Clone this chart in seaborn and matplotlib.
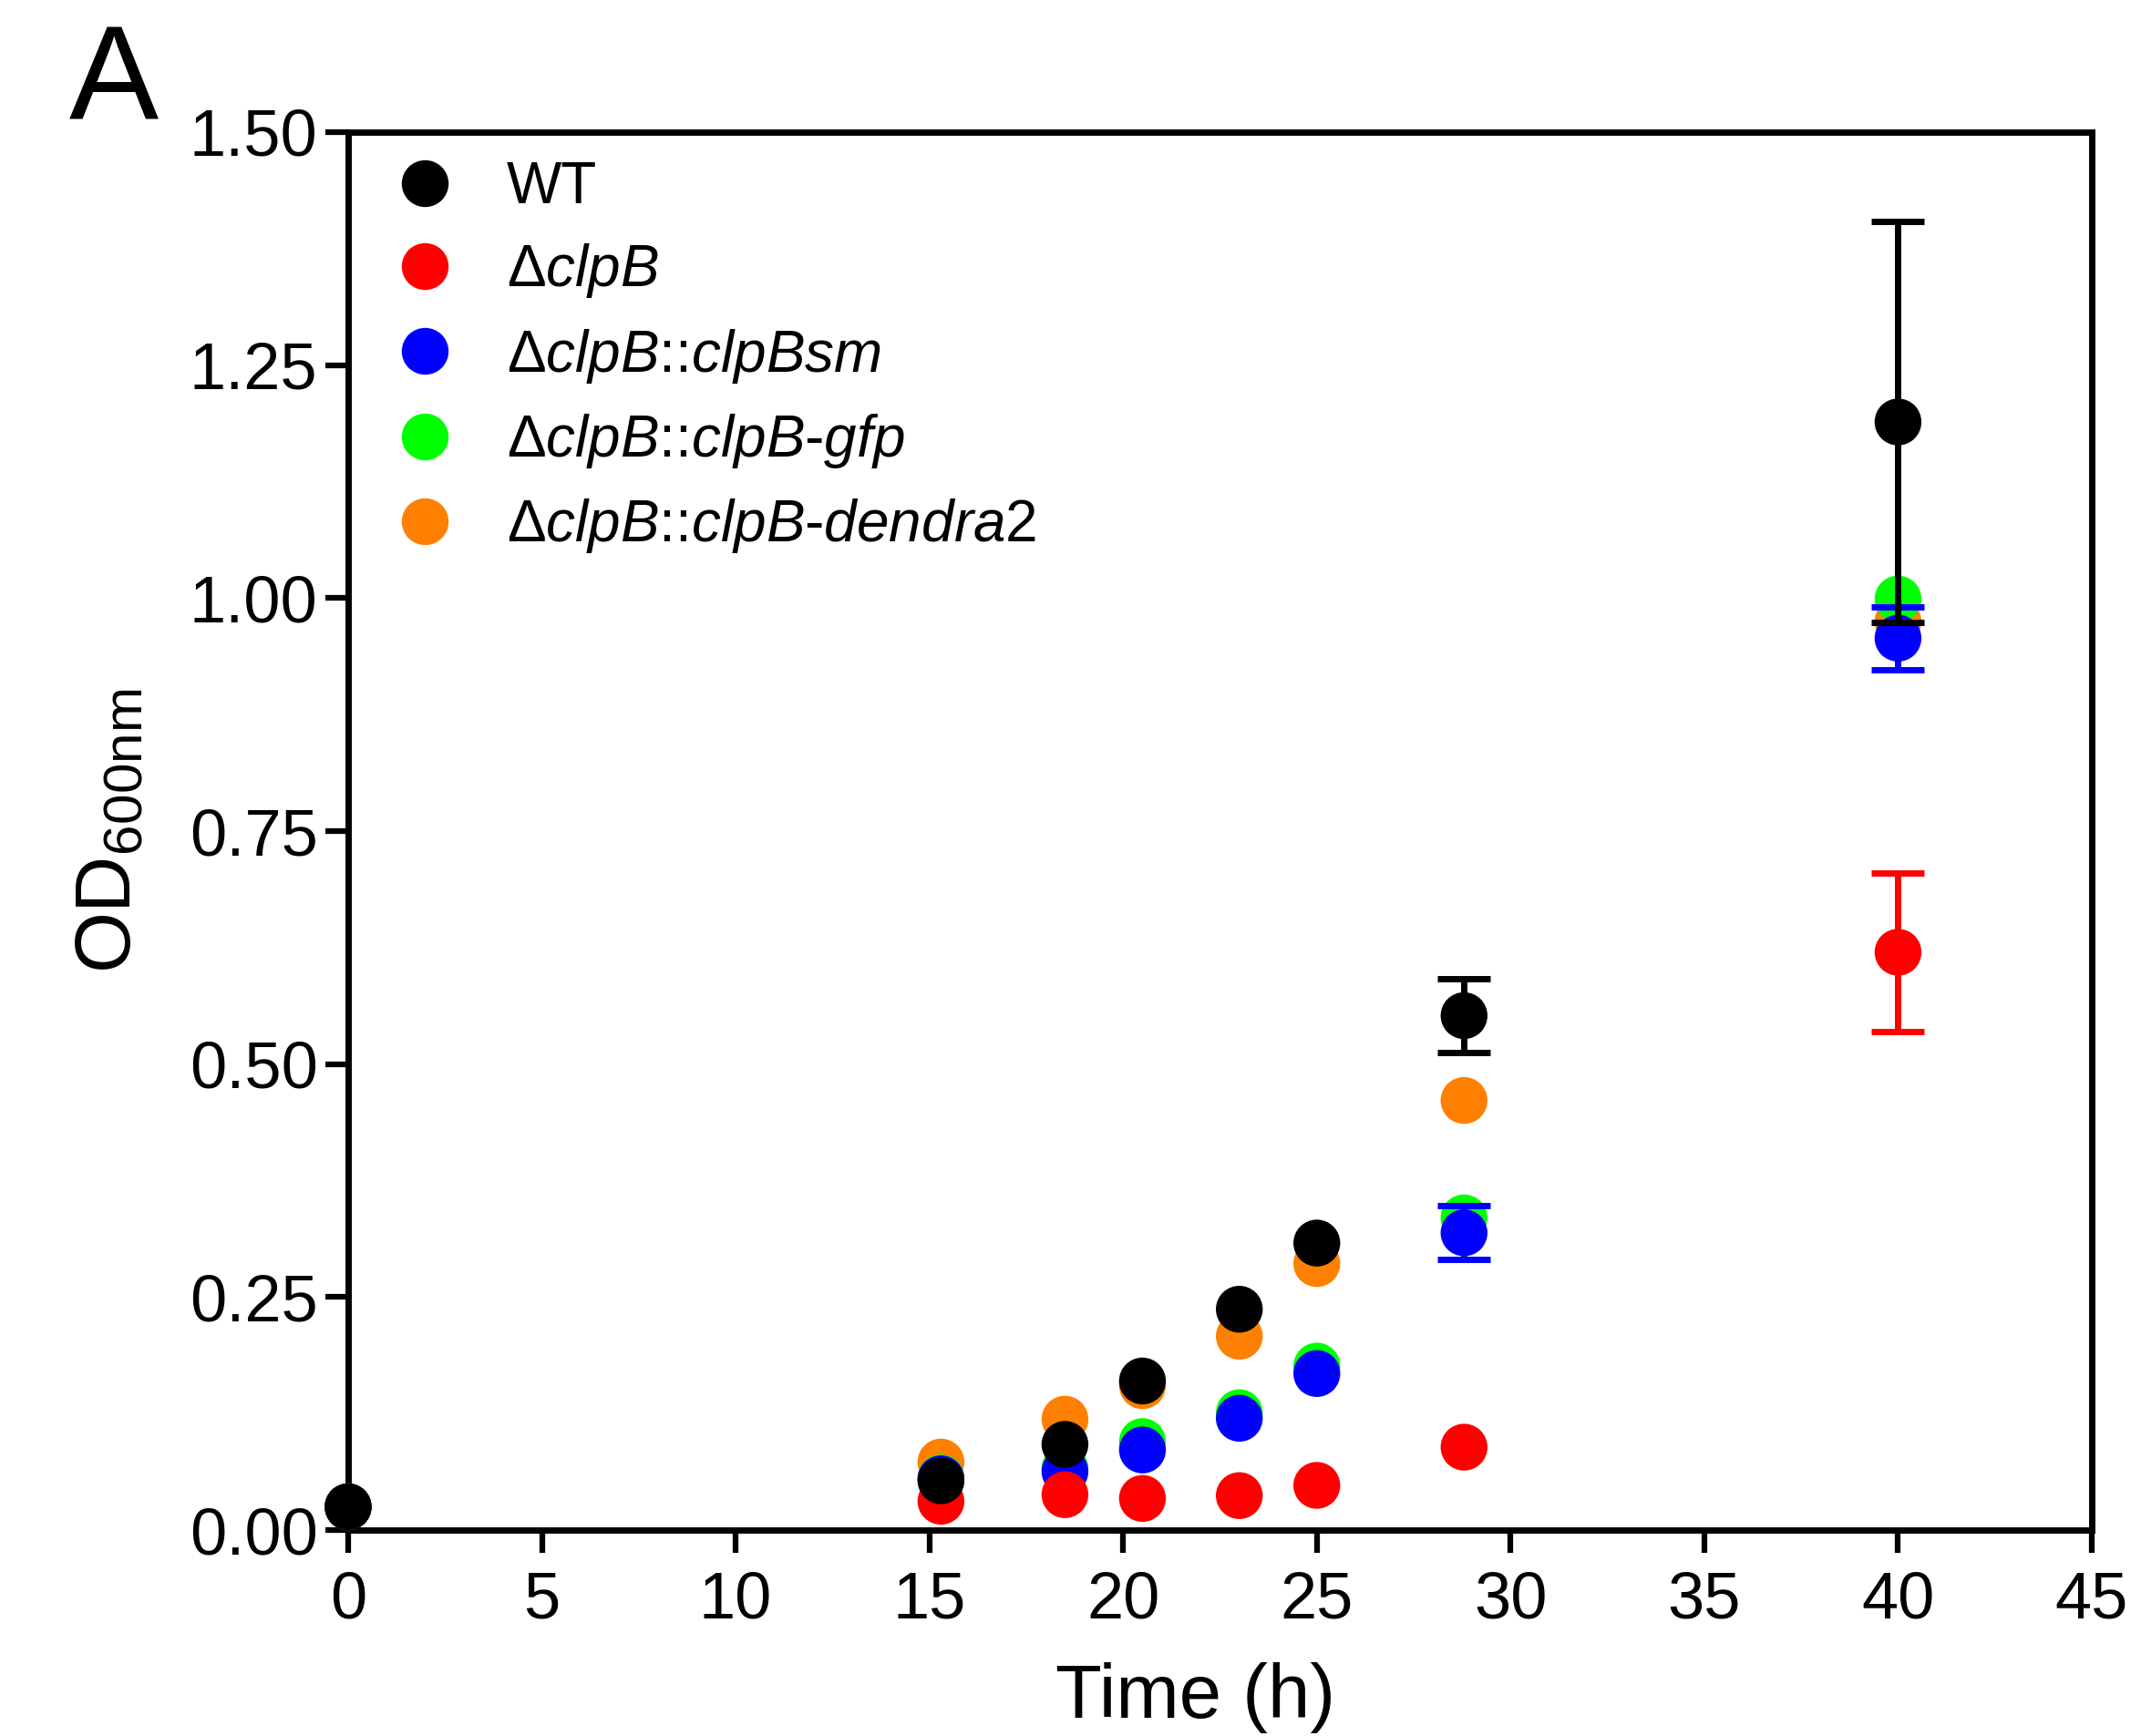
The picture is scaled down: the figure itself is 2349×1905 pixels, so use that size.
import seaborn as sns
import matplotlib
import matplotlib.pyplot as plt
import numpy as np
import pandas as pd

matplotlib.use('Agg')

# values
time_h = [0, 15.3, 18.5, 20.5, 23.0, 25.0, 28.8, 40.0]

wt = [0.025, 0.053, 0.092, 0.160, 0.237, 0.308, 0.552, 1.189]
clpb = [0.025, 0.031, 0.038, 0.034, 0.037, 0.048, 0.089, 0.620]
clpbsm = [0.025, 0.055, 0.063, 0.086, 0.120, 0.168, 0.319, 0.957]
gfp = [0.025, 0.056, 0.066, 0.095, 0.126, 0.176, 0.335, 0.999]
dendra2 = [0.025, 0.073, 0.119, 0.155, 0.208, 0.286, 0.461, 0.975]

# SEM (nan where the bar is hidden by the marker)
wt_err = [np.nan, np.nan, np.nan, np.nan, np.nan, np.nan, 0.040, 0.215]
clpb_err = [np.nan, np.nan, np.nan, np.nan, np.nan, np.nan, np.nan, 0.085]
clpbsm_err = [np.nan, np.nan, np.nan, np.nan, np.nan, np.nan, 0.029, 0.034]
gfp_err = [np.nan] * 8
dendra2_err = [np.nan] * 8

strains = [r'$\Delta\mathit{clpB}$::$\mathit{clpB}$-$\mathit{dendra2}$',
           r'$\Delta\mathit{clpB}$::$\mathit{clpB}$-$\mathit{gfp}$',
           r'$\Delta\mathit{clpB}$::$\mathit{clpBsm}$',
           r'$\Delta\mathit{clpB}$',
           'WT']
colors = ['#FF8000', '#00FF00', '#0000FF', '#FF0000', '#000000']
values = [dendra2, gfp, clpbsm, clpb, wt]
errors = [dendra2_err, gfp_err, clpbsm_err, clpb_err, wt_err]

rows = []
for name, v, e in zip(strains, values, errors):
    for t, y, s in zip(time_h, v, e):
        rows.append({'time': t, 'od': y, 'err': s, 'strain': name})
df = pd.DataFrame(rows)

sns.set_style('white')
plt.rcParams['font.family'] = ['Liberation Sans', 'DejaVu Sans']
plt.rcParams['mathtext.fontset'] = 'custom'
plt.rcParams['mathtext.rm'] = 'Liberation Sans'
plt.rcParams['mathtext.it'] = 'Liberation Sans:italic'
plt.rcParams['mathtext.default'] = 'regular'
for k in ['text.color', 'axes.labelcolor', 'xtick.color', 'ytick.color']:
    plt.rcParams[k] = 'black'

fig = plt.figure(figsize=(23.49, 19.05), dpi=100)
ax = fig.add_axes([0.1626, 0.1186, 0.977 - 0.1626, 0.9239 - 0.1186])

palette = dict(zip(strains, colors))
sc = sns.scatterplot(data=df, x='time', y='od', hue='strain', palette=palette,
                     hue_order=strains[::-1], s=37**2, linewidth=0, ax=ax,
                     clip_on=False, zorder=3)

for name, c in zip(strains, colors):
    d = df[(df.strain == name) & df.err.notna()]
    if len(d):
        ax.errorbar(d.time, d.od, yerr=d.err, fmt='none', ecolor=c,
                    elinewidth=5, capsize=21, capthick=5, zorder=4)

ax.set_xlim(0, 45)
ax.set_ylim(0, 1.5)
ax.set_xticks(np.arange(0, 46, 5))
ax.set_yticks(np.arange(0, 1.51, 0.25))
ax.set_yticklabels(['%.2f' % v for v in np.arange(0, 1.51, 0.25)])
for sp in ax.spines.values():
    sp.set_linewidth(5)
    sp.set_color('black')
ax.tick_params(axis='both', which='major', length=18, width=4.5, color='black',
               labelsize=52, direction='out', bottom=True, left=True)
ax.tick_params(axis='x', pad=14)
ax.tick_params(axis='y', pad=6)

ax.set_xlabel('Time (h)', fontsize=60, labelpad=24)
ax.xaxis.label.set_x(0.486)
ax.set_ylabel('OD$_{600nm}$', fontsize=62, labelpad=34)

leg = ax.legend(loc='upper left', frameon=False, fontsize=46,
                markerscale=1.0, handletextpad=0.9, labelspacing=0.46,
                borderaxespad=0.3, handlelength=1.0,
                bbox_to_anchor=(0.004, 1.009))
for h in leg.legend_handles:
    h.set_markersize(37)
    h.set_markeredgewidth(0)

fig.text(0.053, 0.951, 'A', fontsize=106, ha='center', va='center')

plt.savefig('out.png', dpi=100)
